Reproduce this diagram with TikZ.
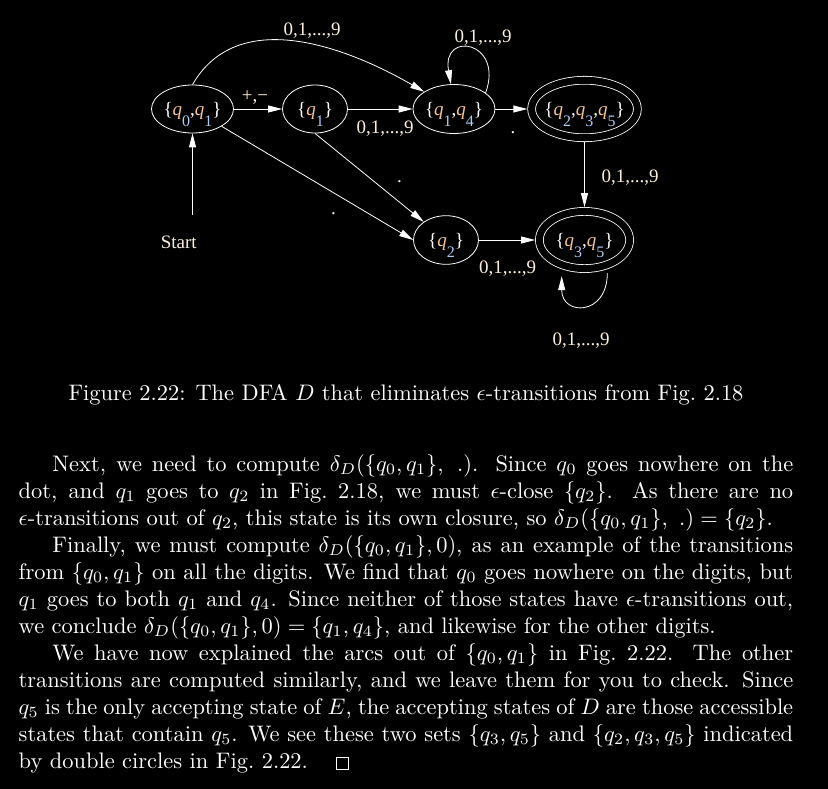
\documentclass[tikz,border=0pt]{standalone}
\usepackage{amssymb}
\usepackage{fontspec}
\usepackage{graphicx}
\usetikzlibrary{shapes.geometric,arrows.meta}
\newfontfamily\figfont{Liberation Serif}
\definecolor{qpeach}{RGB}{245,195,145}
\definecolor{subblue}{RGB}{175,205,240}
\definecolor{labcream}{RGB}{250,238,222}
\newcommand{\qsub}[1]{\textcolor{qpeach}{\itshape q}\raisebox{-11pt}{\textcolor{subblue}{\fontsize{16}{16}\selectfont #1}}}
\newcommand{\stxt}[1]{\makebox[0pt]{\raisebox{-7pt}[0pt][0pt]{#1}}}
\newcommand{\fulline}[1]{\scalebox{2.245}{\hbox to 345pt{#1}}}
\newcommand{\indline}[1]{\scalebox{2.245}{\hbox to 330pt{#1}}}
\newcommand{\lastline}[1]{\scalebox{2.245}{#1}}
\newcommand{\qedbox}{{\setlength{\fboxsep}{0pt}\fbox{\rule{0pt}{4.6pt}\rule{4.6pt}{0pt}}}}

\begin{document}
\begin{tikzpicture}[x=1pt, y=1pt,
  dfastate/.style={ellipse, draw=white, line width=0.8pt, inner sep=0pt, text=white, font=\figfont\fontsize{19}{22}\selectfont},
  accept/.style={dfastate, double=black, double distance=7pt, outer sep=4.3pt},
  lbl/.style={anchor=base, inner sep=0pt, text=labcream, font=\figfont\fontsize{19}{22}\selectfont},
  arr/.style={draw=white, line width=0.8pt, -{Triangle[length=14pt,width=7pt]}},
  bodyline/.style={anchor=base west, inner sep=0pt, text=white, font=\normalsize},
  captext/.style={anchor=base, inner sep=0pt, text=white, font=\normalsize}]
\fill[black] (0,-789) rectangle (828,0);
\useasboundingbox (0,-789) rectangle (828,0);

\node[dfastate, minimum width=82pt, minimum height=48pt] (q01) at (192.5,-109) {\stxt{\{\qsub{0},\qsub{1}\}}};
\node[dfastate, minimum width=65pt, minimum height=48pt] (q1) at (315,-109) {\stxt{\{\qsub{1}\}}};
\node[dfastate, minimum width=82pt, minimum height=49pt] (q14) at (454,-109) {\stxt{\{\qsub{1},\qsub{4}\}}};
\node[accept, minimum width=105.7pt, minimum height=57.5pt] (q235) at (584.5,-109) {\stxt{\{\qsub{2},\qsub{3},\qsub{5}\}}};
\node[dfastate, minimum width=65pt, minimum height=48.6pt] (q2) at (446,-240) {\stxt{\{\qsub{2}\}}};
\node[accept, minimum width=90.2pt, minimum height=57.2pt] (q35) at (584.5,-240) {\stxt{\{\qsub{3},\qsub{5}\}}};

\node[lbl] (start) at (178.7,-248) {Start};
\coordinate (starttail) at (192.5,-215);
\node[lbl] (l-top) at (312,-36) {0,1,...,9};
\node[lbl] (l-loop14) at (483,-43) {0,1,...,9};
\node[lbl] (l-pm) at (255,-102) {+,−};
\node[lbl] (l-q1q14) at (385,-134) {0,1,...,9};
\node[lbl] (l-dot14) at (513,-133.5) {.};
\node[lbl] (l-q235q35) at (630,-183) {0,1,...,9};
\node[lbl] (l-dotq1q2) at (399.5,-182.5) {.};
\node[lbl] (l-dotq01q2) at (333.5,-214.5) {.};
\node[lbl] (l-q2q35) at (507.5,-273) {0,1,...,9};
\node[lbl] (l-loop35) at (581,-345) {0,1,...,9};

\draw[arr] (starttail) -- (q01);
\draw[arr] (q01) -- (q1);
\draw[arr] (q1) -- (q14);
\draw[arr] (q01.north) to[out=60,in=150] (q14);
\draw[arr] (q14.27) .. controls +(70:55pt) and +(100:55pt) .. (q14.97);
\draw[arr] (q14) -- (q235);
\draw[arr] (q235) -- (q35);
\draw[arr] (q1.south) -- (q2);
\draw[arr] (q01) -- (q2.west);
\draw[arr] (q2) -- (q35);
\draw[arr, shorten <=4pt, shorten >=7pt] (q35.308) .. controls +(-90:47pt) and +(-90:47pt) .. (q35.232);

\node[captext] (cap) at (406,-400.5) {\lastline{Figure 2.22: The DFA $D$ that eliminates $\epsilon$-transitions from Fig.~2.18}};

\node[bodyline] (t1) at (52.2,-471.5) {\indline{Next, we need to compute $\delta_D(\{q_0,q_1\},\ .)$. Since $q_0$ goes nowhere on the}};
\node[bodyline] (t2) at (18.5,-498.5) {\fulline{dot, and $q_1$ goes to $q_2$ in Fig.~2.18, we must $\epsilon$-close $\{q_2\}$. As there are no}};
\node[bodyline] (t3) at (18.5,-525.5) {\lastline{$\epsilon$-transitions out of $q_2$, this state is its own closure, so $\delta_D(\{q_0,q_1\},\ .)=\{q_2\}$.}};
\node[bodyline] (t4) at (52.2,-552.5) {\indline{Finally, we must compute $\delta_D(\{q_0,q_1\},0)$, as an example of the transitions}};
\node[bodyline] (t5) at (18.5,-579.5) {\fulline{from $\{q_0,q_1\}$ on all the digits. We find that $q_0$ goes nowhere on the digits, but}};
\node[bodyline] (t6) at (18.5,-606.5) {\fulline{$q_1$ goes to both $q_1$ and $q_4$. Since neither of those states have $\epsilon$-transitions out,}};
\node[bodyline] (t7) at (18.5,-633.5) {\lastline{we conclude $\delta_D(\{q_0,q_1\},0)=\{q_1,q_4\}$, and likewise for the other digits.}};
\node[bodyline] (t8) at (52.2,-660.5) {\indline{We have now explained the arcs out of $\{q_0,q_1\}$ in Fig.~2.22. The other}};
\node[bodyline] (t9) at (18.5,-687.5) {\fulline{transitions are computed similarly, and we leave them for you to check. Since}};
\node[bodyline] (t10) at (18.5,-714.5) {\fulline{$q_5$ is the only accepting state of $E$, the accepting states of $D$ are those accessible}};
\node[bodyline] (t11) at (18.5,-741.5) {\fulline{states that contain $q_5$. We see these two sets $\{q_3,q_5\}$ and $\{q_2,q_3,q_5\}$ indicated}};
\node[bodyline] (t12) at (18.5,-768.5) {\lastline{by double circles in Fig.~2.22.\hspace{12.7pt}\qedbox}};
\end{tikzpicture}
\end{document}
